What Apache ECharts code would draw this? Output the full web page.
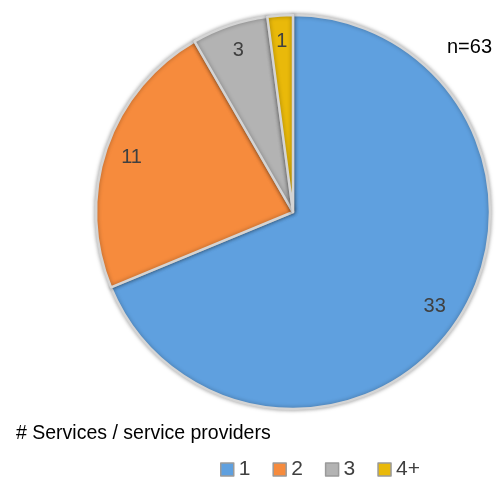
<!DOCTYPE html>
<html>
<head>
<meta charset="utf-8">
<script src="https://cdn.jsdelivr.net/npm/echarts@6/dist/echarts.min.js"></script>
<style>
  html, body { margin: 0; padding: 0; background: #fff; }
  #chart { width: 503px; height: 479px; }
</style>
</head>
<body>
<div id="chart"></div>
<script>
// Number of services / service providers per respondent
const categories = ['1', '2', '3', '4+'];
const counts = [33, 11, 3, 1];
const sliceColors = ['#5fa0df', '#f68b3d', '#b3b3b3', '#e9b90a'];
const sampleNote = 'n=63';
const footTitle = '# Services / service providers';

const chart = echarts.init(document.getElementById('chart'), null, { renderer: 'canvas' });

const sliceData = categories.map((c, i) => ({
  name: c,
  value: counts[i],
  itemStyle: { color: sliceColors[i] }
}));

const center = [293, 212];
const R = 197;

chart.setOption({
  animation: false,
  title: [
    {
      text: sampleNote, left: 442, top: 32,
      textStyle: { fontFamily: 'Liberation Sans', fontSize: 20, fontWeight: 'normal', color: '#000' }
    },
    {
      text: footTitle, left: 11, top: 419,
      textStyle: { fontFamily: 'Liberation Sans', fontSize: 19.5, fontWeight: 'normal', color: '#000' }
    }
  ],
  legend: {
    data: categories,
    left: 215, top: 454,
    icon: 'rect',
    itemWidth: 13, itemHeight: 13, itemGap: 22,
    textStyle: { fontFamily: 'Liberation Sans', fontSize: 21, color: '#404040' },
    itemStyle: { borderColor: '#9a9a9a', borderWidth: 1.5 }
  },
  series: [
    {
      type: 'pie',
      center: center,
      radius: [0, R],
      startAngle: 90,
      clockwise: true,
      label: { show: false },
      labelLine: { show: false },
      silent: true,
      itemStyle: {
        borderColor: '#d4d4d4',
        borderWidth: 2.5,
        shadowBlur: 4,
        shadowColor: 'rgba(0,0,0,0.35)'
      },
      data: sliceData
    },
    {
      // label ring: places the value near the outer rim of each slice
      type: 'pie',
      center: center,
      radius: [R * 0.70, R],
      startAngle: 90,
      clockwise: true,
      silent: true,
      legendHoverLink: false,
      itemStyle: { color: 'rgba(0,0,0,0)', borderWidth: 0 },
      label: {
        show: true,
        position: 'inside',
        formatter: '{c}',
        fontFamily: 'Liberation Sans',
        fontSize: 20,
        color: '#404040'
      },
      labelLine: { show: false },
      data: categories.map((c, i) => ({ name: c, value: counts[i] }))
    }
  ]
});
</script>
</body>
</html>
